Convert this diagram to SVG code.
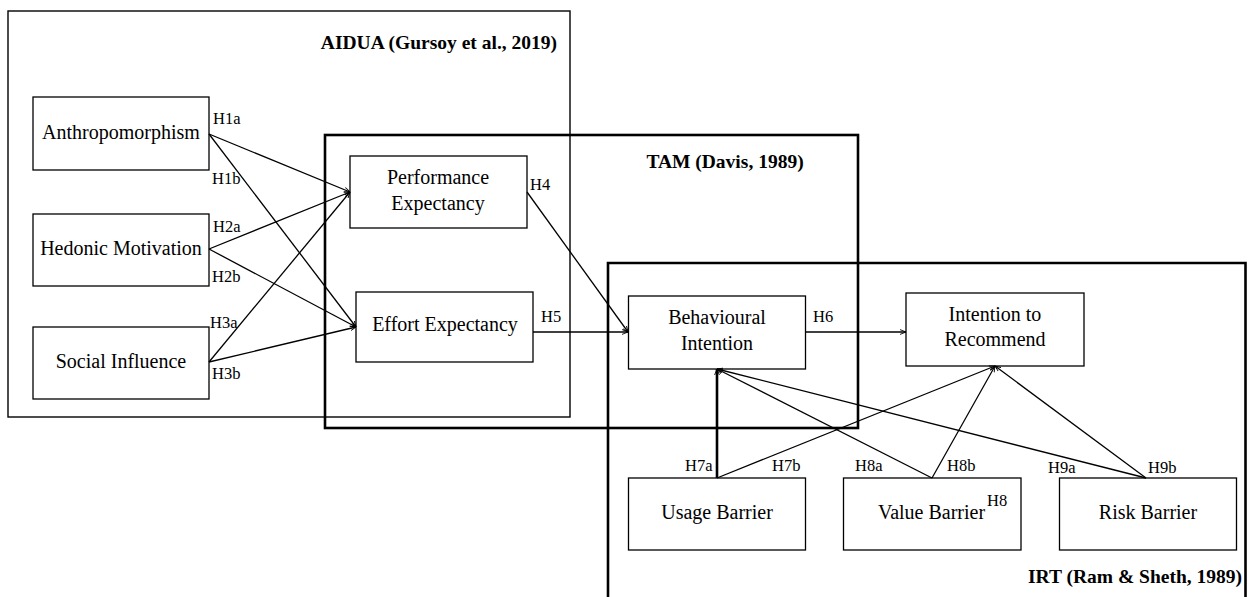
<svg xmlns="http://www.w3.org/2000/svg" width="1249" height="597" viewBox="0 0 1249 597">
<style>
.frame{fill:none;stroke:#000;stroke-width:1.4}
.frameT{fill:none;stroke:#000;stroke-width:2.6}
.node{fill:#fff;stroke:#000;stroke-width:1.3}
.t{font-family:"Liberation Serif","Times New Roman",serif;font-size:20px;fill:#000;text-anchor:middle}
.title{font-family:"Liberation Serif","Times New Roman",serif;font-size:19.5px;font-weight:bold;fill:#000}
.lab{font-family:"Liberation Serif","Times New Roman",serif;font-size:16.5px;fill:#000}
.e{fill:none;stroke:#000;stroke-width:1.3;marker-end:url(#ah)}
</style>
<defs>
<marker id="ah" viewBox="0 0 10 10" refX="10" refY="5" markerWidth="6" markerHeight="6" markerUnits="userSpaceOnUse" orient="auto">
<path d="M0,1 L10,5 L0,9" fill="none" stroke="#000" stroke-width="1.5"/>
</marker>
</defs>
<rect width="1249" height="597" fill="#fff"/>
<g id="frames">
<rect class="frame" x="8" y="11" width="562" height="406"/>
<text class="title" x="557" y="49" text-anchor="end">AIDUA (Gursoy et al., 2019)</text>
<rect class="frameT" x="325" y="135" width="533" height="293"/>
<text class="title" x="725" y="168" text-anchor="middle">TAM (Davis, 1989)</text>
<path class="frameT" d="M608,600 V263 H1245.5 V600"/>
<text class="title" x="1242" y="583" text-anchor="end">IRT (Ram &amp; Sheth, 1989)</text>
</g>
<g id="anthro"><rect class="node" x="33" y="97" width="176" height="73"/><text class="t" x="121" y="139">Anthropomorphism</text></g>
<g id="hedonic"><rect class="node" x="33" y="214" width="176" height="72"/><text class="t" x="121" y="255">Hedonic Motivation</text></g>
<g id="social"><rect class="node" x="33" y="327" width="176" height="72"/><text class="t" x="121" y="368">Social Influence</text></g>
<g id="pe"><rect class="node" x="350" y="156" width="177" height="72"/><text class="t" x="438" y="184">Performance</text><text class="t" x="438" y="210">Expectancy</text></g>
<g id="ee"><rect class="node" x="356" y="292" width="177" height="70"/><text class="t" x="445" y="331">Effort Expectancy</text></g>
<g id="bi"><rect class="node" x="628.5" y="296" width="177" height="73"/><text class="t" x="717" y="324">Behavioural</text><text class="t" x="717" y="350">Intention</text></g>
<g id="itr"><rect class="node" x="906" y="293" width="178" height="73"/><text class="t" x="995" y="321">Intention to</text><text class="t" x="995" y="346">Recommend</text></g>
<g id="usage"><rect class="node" x="628.5" y="478" width="177" height="72"/><text class="t" x="717" y="519">Usage Barrier</text></g>
<g id="value"><rect class="node" x="843.5" y="478" width="177.5" height="72"/><text class="t" x="931.5" y="519">Value Barrier</text><text class="lab" x="987" y="506">H8</text></g>
<g id="risk"><rect class="node" x="1059.5" y="478" width="177" height="72"/><text class="t" x="1148" y="519">Risk Barrier</text></g>
<g id="connectors">
<line class="e" x1="209" y1="134" x2="350" y2="192"/>
<line class="e" x1="209" y1="134" x2="356" y2="327"/>
<line class="e" x1="209" y1="249" x2="350" y2="192"/>
<line class="e" x1="209" y1="249" x2="356" y2="327"/>
<line class="e" x1="209" y1="362" x2="350" y2="192"/>
<line class="e" x1="209" y1="362" x2="356" y2="327"/>
<line class="e" x1="527" y1="192" x2="628" y2="332"/>
<line class="e" x1="533" y1="332" x2="628" y2="332"/>
<line class="e" x1="806" y1="332" x2="906" y2="332"/>
<line class="e" x1="717" y1="478" x2="717" y2="369" style="stroke-width:2.6"/>
<line class="e" x1="717" y1="478" x2="995" y2="366"/>
<line class="e" x1="932" y1="478" x2="717" y2="369"/>
<line class="e" x1="932" y1="478" x2="995" y2="366"/>
<line class="e" x1="1146" y1="478" x2="717" y2="369"/>
<line class="e" x1="1146" y1="478" x2="995" y2="366"/>
</g>
<g id="labels">
<text class="lab" x="213" y="124">H1a</text>
<text class="lab" x="212" y="184">H1b</text>
<text class="lab" x="213" y="232">H2a</text>
<text class="lab" x="212" y="282">H2b</text>
<text class="lab" x="210" y="328">H3a</text>
<text class="lab" x="212" y="379">H3b</text>
<text class="lab" x="530" y="190">H4</text>
<text class="lab" x="541" y="322">H5</text>
<text class="lab" x="813" y="322">H6</text>
<text class="lab" x="685" y="471">H7a</text>
<text class="lab" x="772" y="471">H7b</text>
<text class="lab" x="855" y="471">H8a</text>
<text class="lab" x="947" y="471">H8b</text>
<text class="lab" x="1048" y="473">H9a</text>
<text class="lab" x="1148" y="473">H9b</text>
</g>
</svg>
